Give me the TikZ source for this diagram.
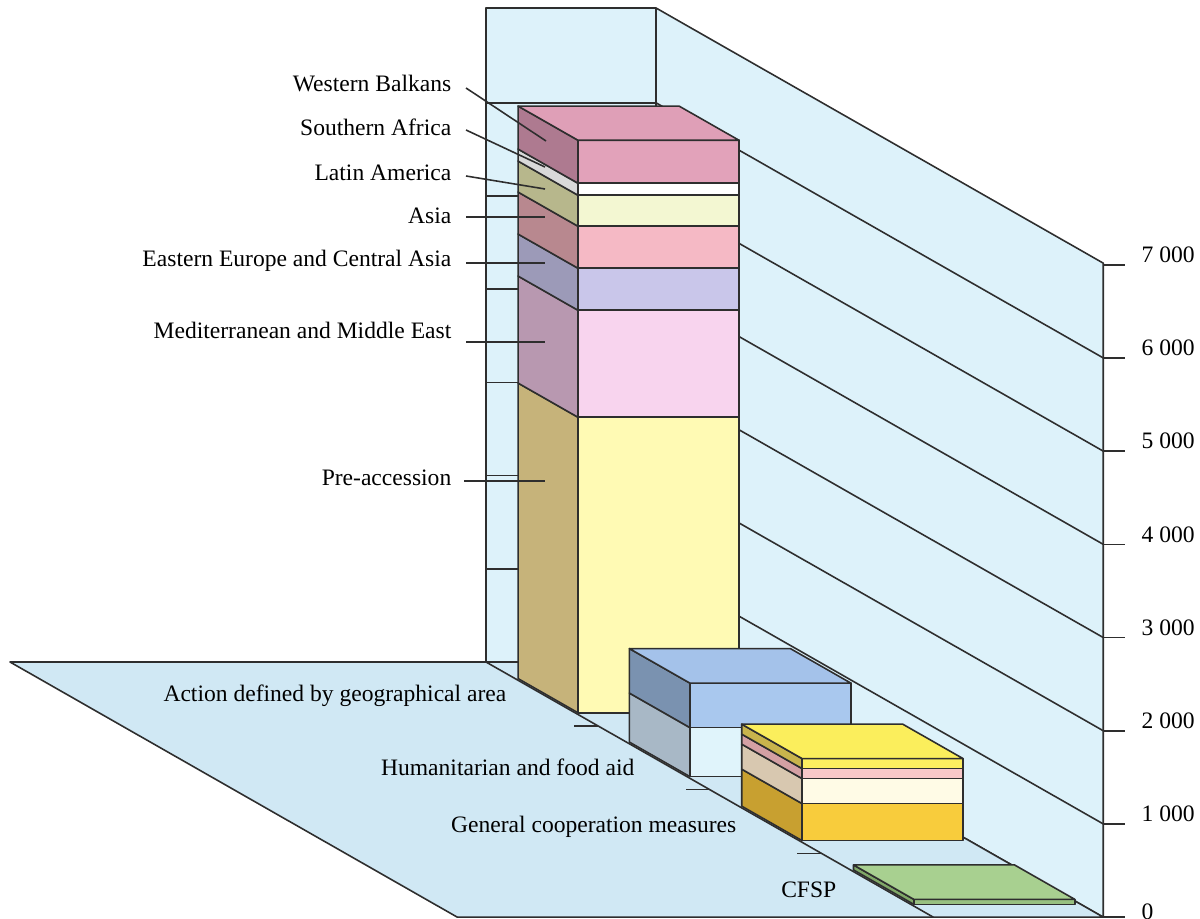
\documentclass[tikz,border=0pt]{standalone}
\usepackage{fontspec}
\setmainfont{Liberation Serif}

\definecolor{wallblue}{HTML}{DDF2FA}
\definecolor{floorblue}{HTML}{D0E8F4}
\definecolor{edge}{HTML}{2E2E2E}
% Action defined by geographical area
\definecolor{wbF}{HTML}{E2A2BA}\definecolor{wbS}{HTML}{AE7A90}\definecolor{wbT}{HTML}{DF9FB7}
\definecolor{saF}{HTML}{FFFFFF}\definecolor{saS}{HTML}{D9D9D9}
\definecolor{laF}{HTML}{F3F7D2}\definecolor{laS}{HTML}{B7B78C}
\definecolor{asF}{HTML}{F5B9C5}\definecolor{asS}{HTML}{B8888F}
\definecolor{eeF}{HTML}{C9C6EA}\definecolor{eeS}{HTML}{9C9AB8}
\definecolor{meF}{HTML}{F8D4EE}\definecolor{meS}{HTML}{B898B0}
\definecolor{prF}{HTML}{FFFAB4}\definecolor{prS}{HTML}{C6B37A}
% Humanitarian and food aid
\definecolor{hfF}{HTML}{A9C8EE}\definecolor{hfS}{HTML}{7A92B0}\definecolor{hfT}{HTML}{A4C2EA}
\definecolor{hlF}{HTML}{E0F4FB}\definecolor{hlS}{HTML}{A8B8C6}
% General cooperation measures
\definecolor{gyF}{HTML}{FCEE60}\definecolor{gyS}{HTML}{C8B44C}\definecolor{gyT}{HTML}{FBEE5C}
\definecolor{gpF}{HTML}{F8C8C8}\definecolor{gpS}{HTML}{D4A0A4}
\definecolor{gcF}{HTML}{FFFBE6}\definecolor{gcS}{HTML}{D8C8B0}
\definecolor{ggF}{HTML}{F8CC3C}\definecolor{ggS}{HTML}{C8A030}
% CFSP
\definecolor{cfF}{HTML}{98C080}\definecolor{cfS}{HTML}{80A868}\definecolor{cfT}{HTML}{A8D090}

\tikzset{
  face/.style={draw=edge, line width=0.45pt, line join=round},
  leftlbl/.style={font=\fontsize{6.7}{8}\selectfont, inner ysep=0pt, inner xsep=0.14cm, anchor=base east},
  floorlbl/.style={font=\fontsize{6.7}{8}\selectfont, inner sep=0pt, anchor=base east},
  ticklbl/.style={font=\fontsize{6.7}{8}\selectfont, inner sep=0pt, anchor=base west}
}

% one slice of a bar: z back, z front, bottom, top, front colour, side colour
\newcommand\barseg[6]{%
  \path[face, fill=#6] (489,662-#4,#1) -- (489,662-#4,#2) -- (489,662-#3,#2) -- (489,662-#3,#1) -- cycle;
  \path[face, fill=#5] (489,662-#4,#2) -- (650,662-#4,#2) -- (650,662-#3,#2) -- (489,662-#3,#2) -- cycle;}
% lid of a bar: z back, z front, height, colour
\newcommand\bartop[4]{%
  \path[face, fill=#4] (489,662-#3,#1) -- (650,662-#3,#1) -- (650,662-#3,#2) -- (489,662-#3,#2) -- cycle;}

\begin{document}
\begin{tikzpicture}[x={(0.01cm,0)}, y={(0,-0.01cm)}, z={(4.47cm,-2.55cm)}]
    \useasboundingbox (0,0) rectangle (1200,919);

    % walls and floor
    \path[face, fill=wallblue] (486,8) rectangle (656,662);
    \path[face, fill=wallblue] (656,8,0) -- (656,8,1) -- (656,662,1) -- (656,662,0) -- cycle;
    \path[face, fill=floorblue] (10,662,0) -- (656,662,0) -- (656,662,1) -- (10,662,1) -- cycle;

    % grid
    \foreach \k in {1,...,6} {
        \draw[edge, line width=0.45pt] (486,662-93.2*\k) -- (656,662-93.2*\k);
        \draw[edge, line width=0.45pt] (656,662-93.2*\k,0) -- (656,662-93.2*\k,1);
    }
    \foreach \k in {0,...,7}
        \draw[edge, line width=0.45pt] (656,662-93.2*\k,1) -- ++(22,0);
    \draw[edge, line width=0.45pt] (486,662,0) -- (486,662,1);
    \foreach \z in {0.25,0.5,0.75}
        \draw[edge, line width=0.45pt] (486,662,\z) -- ++(-24,0);

    % scale
    \node[ticklbl] (v7) at (1141,915-652.4) {7 000};
    \node[ticklbl] (v6) at (1141,915-559.2) {6 000};
    \node[ticklbl] (v5) at (1141,915-466) {5 000};
    \node[ticklbl] (v4) at (1141,915-372.8) {4 000};
    \node[ticklbl] (v3) at (1141,915-279.6) {3 000};
    \node[ticklbl] (v2) at (1141,915-186.4) {2 000};
    \node[ticklbl] (v1) at (1141,915-93.2) {1 000};
    \node[ticklbl] (v0) at (1141,919) {0};

    % Action defined by geographical area
    \barseg{0.065}{0.199}{0}{295.5}{prF}{prS}
    \barseg{0.065}{0.199}{295.5}{402.5}{meF}{meS}
    \barseg{0.065}{0.199}{402.5}{444.5}{eeF}{eeS}
    \barseg{0.065}{0.199}{444.5}{486.5}{asF}{asS}
    \barseg{0.065}{0.199}{486.5}{517.5}{laF}{laS}
    \barseg{0.065}{0.199}{517.5}{529.5}{saF}{saS}
    \barseg{0.065}{0.199}{529.5}{572.5}{wbF}{wbS}
    \bartop{0.065}{0.199}{572.5}{wbT}

    % Humanitarian and food aid
    \barseg{0.314}{0.449}{0}{49}{hlF}{hlS}
    \barseg{0.314}{0.449}{49}{93.5}{hfF}{hfS}
    \bartop{0.314}{0.449}{93.5}{hfT}

    % General cooperation measures
    \barseg{0.565}{0.70}{0}{37}{ggF}{ggS}
    \barseg{0.565}{0.70}{37}{62}{gcF}{gcS}
    \barseg{0.565}{0.70}{62}{72}{gpF}{gpS}
    \barseg{0.565}{0.70}{72}{82}{gyF}{gyS}
    \bartop{0.565}{0.70}{82}{gyT}

    % CFSP
    \barseg{0.815}{0.95}{0}{5}{cfF}{cfS}
    \bartop{0.815}{0.95}{5}{cfT}

    % regions
    \node[leftlbl] (wb) at (466,92) {Western Balkans};
    \node[leftlbl] (sa) at (466,136) {Southern Africa};
    \node[leftlbl] (la) at (466,181) {Latin America};
    \node[leftlbl] (as) at (466,224) {Asia};
    \node[leftlbl] (ee) at (466,267) {Eastern Europe and Central Asia};
    \node[leftlbl] (me) at (466,339) {Mediterranean and Middle East};
    \node[leftlbl] (pr) at (466,486) {Pre-accession};

    \coordinate (wbEnd) at (546,141);
    \coordinate (saEnd) at (545,167);
    \coordinate (laEnd) at (545,189);
    \coordinate (asEnd) at (545,217);
    \coordinate (eeEnd) at (545,263);
    \coordinate (meEnd) at (545,342);
    \coordinate (prEnd) at (545,481);

    \draw[edge, line width=0.45pt] (wb.base east) ++(0,-4) -- (wbEnd);
    \draw[edge, line width=0.45pt] (sa.base east) ++(0,-6) -- (saEnd);
    \draw[edge, line width=0.45pt] (la.base east) ++(0,-5) -- (laEnd);
    \draw[edge, line width=0.45pt] (as.base east) ++(0,-7) -- (asEnd);
    \draw[edge, line width=0.45pt] (ee.base east) ++(0,-4) -- (eeEnd);
    \draw[edge, line width=0.45pt] (me.base east) ++(0,3) -- (meEnd);
    \draw[edge, line width=0.45pt] (pr.base east) ++(-2,-5) -- (prEnd);

    % headings
    \node[floorlbl] (adg) at (507,702) {Action defined by geographical area};
    \node[floorlbl] (hfa) at (635,775) {Humanitarian and food aid};
    \node[floorlbl] (gcm) at (737,832) {General cooperation measures};
    \node[floorlbl] (cfsp) at (837,897) {CFSP};
\end{tikzpicture}
\end{document}
